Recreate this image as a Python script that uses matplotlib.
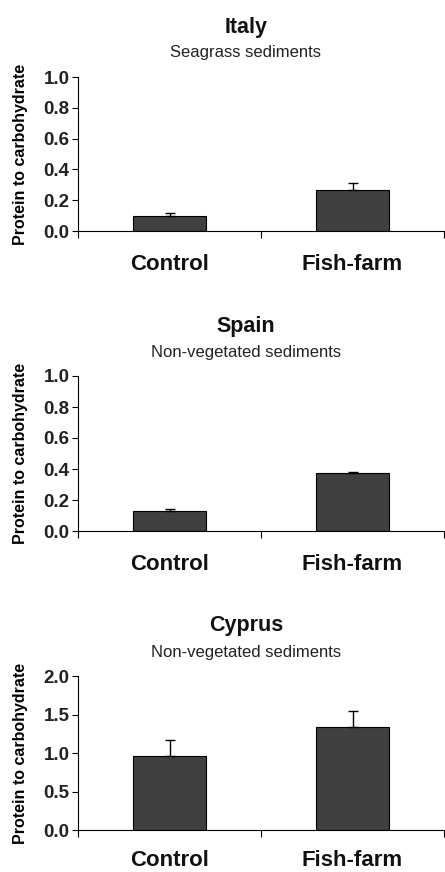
import matplotlib
matplotlib.use('Agg')
import matplotlib.pyplot as plt

plt.rcParams['font.family'] = ['Liberation Sans', 'DejaVu Sans']

#data
groups = ['Control', 'Fish-farm']
sites = ['Italy', 'Spain', 'Cyprus']
habitats = ['Seagrass sediments', 'Non-vegetated sediments', 'Non-vegetated sediments']
italy_mean = [0.10, 0.265]
italy_err = [0.02, 0.045]
spain_mean = [0.13, 0.375]
spain_err = [0.015, 0.006]
cyprus_mean = [0.965, 1.34]
cyprus_err = [0.20, 0.20]
ymax = [1.0, 1.0, 2.0]
ytick_step = [0.2, 0.2, 0.5]

means = [italy_mean, spain_mean, cyprus_mean]
errs = [italy_err, spain_err, cyprus_err]

fig = plt.figure(figsize=(4.45, 8.72), dpi=100)
W, H = 445.0, 872.0
#axes boxes in pixels: top, bottom
boxes = [(77, 231), (376, 531), (676, 830)]
#category label offset below axis, in pixels
label_gap = [34, 34, 30]
left, right = 78, 444

for i in range(3):
    top, bot = boxes[i]
    ax = fig.add_axes([left / W, (H - bot) / H, (right - left) / W, (bot - top) / H])
    x = [0.5, 1.5]
    ax.bar(x, means[i], width=0.4, color='#404040', edgecolor='black', linewidth=0.8,
           yerr=[[0, 0], errs[i]], capsize=3.5,
           error_kw=dict(ecolor='black', elinewidth=1, capthick=1), zorder=2)
    ax.set_xlim(0, 2)
    ax.set_ylim(0, ymax[i])
    n = int(round(ymax[i] / ytick_step[i]))
    ticks = [k * ytick_step[i] for k in range(n + 1)]
    ax.set_yticks(ticks)
    ax.set_yticklabels(['%.1f' % t for t in ticks], fontsize=13.5, fontweight='bold', color='#222222')
    ax.set_xticks([0, 1, 2])
    ax.set_xticklabels([])
    ax.tick_params(axis='x', direction='out', length=5, width=0.8)
    ax.tick_params(axis='y', direction='out', length=4, width=0.8, pad=2)
    for j in range(2):
        ax.text(x[j], -label_gap[i] / (bot - top) * ymax[i], groups[j], ha='center', va='center',
                fontsize=16, fontweight='bold', color='#111111')
    ax.spines['top'].set_visible(False)
    ax.spines['right'].set_visible(False)
    ax.spines['left'].set_linewidth(0.8)
    ax.spines['bottom'].set_linewidth(0.8)
    ax.set_ylabel('Protein to carbohydrate', fontsize=11.5, fontweight='bold')
    ax.yaxis.set_label_coords(-0.137, 0.5)
    # title and subtitle in figure pixels
    fig.text(246 / W, 1 - (top - 50) / H, sites[i], ha='center', va='center',
             fontsize=15.5, fontweight='bold', color='#111111')
    fig.text(246 / W, 1 - (top - 24) / H, habitats[i], ha='center', va='center',
             fontsize=12, color='#222222')

fig.savefig('out.png', dpi=100)
